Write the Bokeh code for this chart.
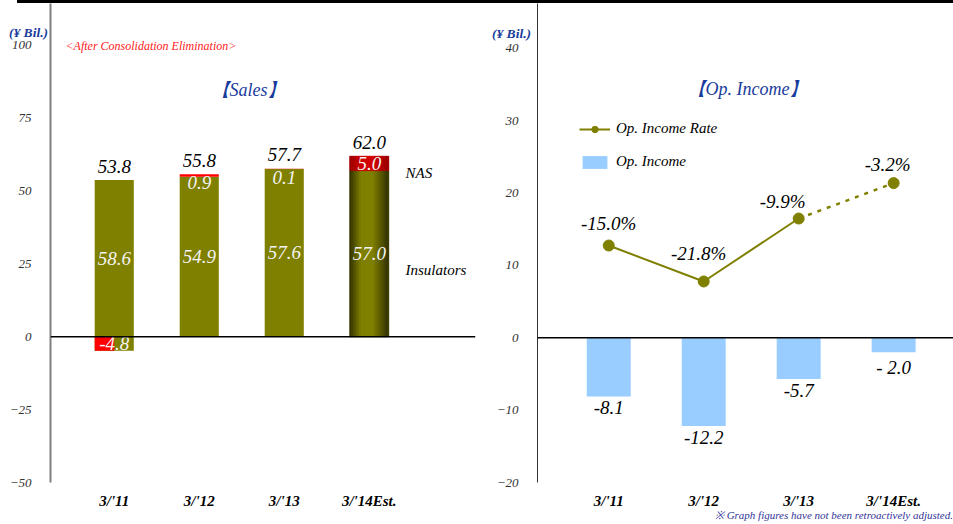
from bokeh.plotting import figure
from bokeh.layouts import row, column
from bokeh.models import (ColumnDataSource, FixedTicker, Span, Label, Legend,
                          LegendItem, Range1d, Div)
from bokeh.core.properties import value
from bokeh.embed import file_html
from bokeh.resources import INLINE

# ---- data ---------------------------------------------------------------
categories = ["3/'11", "3/'12", "3/'13", "3/'14Est."]

insulators = [58.6, 54.9, 57.6, 57.0]
nas = [-4.8, 0.9, 0.1, 5.0]
sales_total = [53.8, 55.8, 57.7, 62.0]
sales_ticks = [-50, -25, 0, 25, 50, 75, 100]

op_income = [-8.1, -12.2, -5.7, -2.0]
op_income_text = ["-8.1", "-12.2", "-5.7", "- 2.0"]
op_rate = [-15.0, -21.8, -9.9, -3.2]
income_ticks = [-20, -10, 0, 10, 20, 30, 40]

# ---- styling ------------------------------------------------------------
SERIF = "Liberation Serif"
OLIVE = "#808000"
RED = "#ff0000"
BLUE_TITLE = "#1a3c9c"
BAR_W = 0.46
# small nudges so the rate labels clear the line
rate_label_dx = [0, -5, -16, -6]
rate_label_dy = [-22, -28, -17, -19]
UNIT = "(¥ Bil.)"
FOOTNOTE = "※ Graph figures have not been retroactively adjusted."


def shade(hex_color, f):
    r, g, b = (int(hex_color[i:i + 2], 16) for i in (1, 3, 5))
    return "#%02x%02x%02x" % (int(r * f), int(g * f), int(b * f))


def cylinder_factor(t):
    # darker at both edges, flat in the middle
    d = min(t / 0.3, (1 - t) / 0.4)
    return min(1.0, 0.38 + 0.62 * d)


def base_axes(p, ticks, axis_color, axis_width):
    p.outline_line_color = None
    p.xgrid.grid_line_color = None
    p.ygrid.grid_line_color = None
    p.background_fill_color = "white"
    p.border_fill_color = "white"

    p.yaxis.ticker = FixedTicker(ticks=ticks)
    p.yaxis.axis_line_color = axis_color
    p.yaxis.axis_line_width = axis_width
    p.yaxis.major_tick_line_color = None
    p.yaxis.minor_tick_line_color = None
    p.yaxis.major_label_standoff = 13
    p.yaxis.major_label_text_font = SERIF
    p.yaxis.major_label_text_font_style = "italic"
    p.yaxis.major_label_text_font_size = "13px"
    p.yaxis.major_label_text_color = "#333333"

    p.xaxis.ticker = FixedTicker(ticks=list(range(len(categories))))
    p.xaxis.major_label_overrides = {i: c for i, c in enumerate(categories)}
    p.xaxis.axis_line_color = None
    p.xaxis.major_tick_line_color = None
    p.xaxis.minor_tick_line_color = None
    p.xaxis.major_label_standoff = 4
    p.xaxis.major_label_text_font = SERIF
    p.xaxis.major_label_text_font_style = "bold italic"
    p.xaxis.major_label_text_font_size = "15px"
    p.xaxis.major_label_text_color = "black"

    p.add_layout(Span(location=0, dimension="width", line_color="black",
                      line_width=1.5))


def screen_label(p, x, y, text, size, color, style="italic", align="left"):
    p.add_layout(Label(x=x, y=y, x_units="screen", y_units="screen", text=text,
                       text_font=SERIF, text_font_style=style,
                       text_font_size=size, text_color=color,
                       text_align=align, text_baseline="middle"))


def floating_text(text, left, top, width, size, color, weight="normal",
                  align="left"):
    # small captions that sit in the margins outside the plot frames
    return Div(text=text, width=width, height=16,
               styles={"position": "absolute", "left": "%dpx" % left,
                       "top": "%dpx" % top, "z-index": "10",
                       "font-family": SERIF, "font-style": "italic",
                       "font-weight": weight, "font-size": size,
                       "line-height": "14px", "color": color,
                       "text-align": align, "white-space": "nowrap"})


# ---- Sales panel --------------------------------------------------------
xs = list(range(len(categories)))
olive_bottom = [min(n, 0) for n in nas]
olive_top = [b + i for b, i in zip(olive_bottom, insulators)]
nas_bottom = [i if n > 0 else n for i, n in zip(insulators, nas)]
nas_top = [i + n if n > 0 else 0 for i, n in zip(insulators, nas)]
nas_x = [x - BAR_W / 4 if n < 0 else x for x, n in zip(xs, nas)]
nas_w = [BAR_W / 2 if n < 0 else BAR_W for n in nas]

p1 = figure(width=480, height=521, x_range=Range1d(-0.75, 4.25),
            y_range=Range1d(-50, 114.4), output_backend="svg",
            toolbar_location=None, min_border_left=50, min_border_right=5,
            min_border_top=0, min_border_bottom=42)
base_axes(p1, sales_ticks, "#808080", 2)

sales_src = ColumnDataSource(dict(
    x=xs, ob=olive_bottom, ot=olive_top, nb=nas_bottom, nt=nas_top,
    nx=nas_x, nw=nas_w, total=sales_total,
    total_txt=["%.1f" % v for v in sales_total],
    ins_txt=["%.1f" % v for v in insulators],
    ins_y=[(max(b, 0) + t) / 2 for b, t in zip(olive_bottom, olive_top)],
    nas_txt=["%.1f" % v for v in nas],
    nas_y=[(b + t) / 2 if abs(n) >= 2 else tot - 3
           for b, t, n, tot in zip(nas_bottom, nas_top, nas, sales_total)],
))

p1.vbar(x="x", bottom="ob", top="ot", width=BAR_W, source=sales_src,
        fill_color=OLIVE, line_color=None)
p1.vbar(x="nx", bottom="nb", top="nt", width="nw", source=sales_src,
        fill_color=RED, line_color=None)

# cylinder shading on the estimate bar
est = len(categories) - 1
n_strips = 24
sw = BAR_W / n_strips
for k in range(n_strips):
    t = (k + 0.5) / n_strips
    f = cylinder_factor(t)
    sx = xs[est] - BAR_W / 2 + (k + 0.5) * sw
    c_body = shade(OLIVE, f)
    c_top = shade("#d00000", 0.55 + 0.45 * f)
    p1.vbar(x=[sx], bottom=[olive_bottom[est]], top=[olive_top[est]],
            width=sw, fill_color=c_body, line_color=c_body, line_width=0.6)
    p1.vbar(x=[sx], bottom=[nas_bottom[est]], top=[nas_top[est]],
            width=sw, fill_color=c_top, line_color=c_top, line_width=0.6)

p1.text(x="x", y="total", text="total_txt", source=sales_src,
        text_font=value(SERIF), text_font_style="italic",
        text_font_size="19px", text_color="black", text_align="center",
        text_baseline="alphabetic", y_offset=-14)
p1.text(x="x", y="ins_y", text="ins_txt", source=sales_src,
        text_font=value(SERIF), text_font_style="italic",
        text_font_size="19px", text_color="#f4f4f4", text_align="center",
        text_baseline="middle")
p1.text(x="x", y="nas_y", text="nas_txt", source=sales_src,
        text_font=value(SERIF), text_font_style="italic",
        text_font_size="19px", text_color="#f4f4f4", text_align="center",
        text_baseline="middle")

screen_label(p1, 198, 393, "【Sales】", "18px", BLUE_TITLE, align="center")
screen_label(p1, 15, 437, "<After Consolidation Elimination>", "12px", "#ff2020")
screen_label(p1, 355, 310, "NAS", "15px", "black")
screen_label(p1, 355, 213, "Insulators", "15px", "black")

# ---- Op. Income panel ---------------------------------------------------
p2 = figure(width=473, height=521, x_range=Range1d(-0.75, 3.63),
            y_range=Range1d(-20, 46.2), output_backend="svg",
            toolbar_location=None, min_border_left=57, min_border_right=0,
            min_border_top=0, min_border_bottom=42)
base_axes(p2, income_ticks, "#333333", 1)

# the rate line shares the plot area on its own (hidden) scale
p2.extra_y_ranges = {"rate": Range1d(-59.8, 30.75)}

inc_src = ColumnDataSource(dict(x=xs, inc=op_income, inc_txt=op_income_text))
rate_src = ColumnDataSource(dict(
    x=xs, rate=op_rate, rate_txt=["%.1f%%" % v for v in op_rate],
    dx=rate_label_dx, dy=rate_label_dy))

r_bar = p2.vbar(x="x", top="inc", bottom=0, width=0.463, source=inc_src,
                fill_color="#99ccff", line_color=None)
p2.text(x="x", y="inc", text="inc_txt", source=inc_src,
        text_font=value(SERIF), text_font_style="italic",
        text_font_size="19px", text_color="black", text_align="center",
        text_baseline="top", y_offset=5)

r_line = p2.line(x=xs[:3], y=op_rate[:3], y_range_name="rate",
                 line_color=OLIVE, line_width=2)
p2.line(x=xs[2:], y=op_rate[2:], y_range_name="rate", line_color=OLIVE,
        line_width=2.5, line_dash="4 6")
r_pts = p2.scatter(x="x", y="rate", source=rate_src, y_range_name="rate",
                   size=11, marker="circle", fill_color=OLIVE,
                   line_color=OLIVE)
p2.text(x="x", y="rate", text="rate_txt", source=rate_src,
        y_range_name="rate", x_offset="dx", y_offset="dy",
        text_font=value(SERIF), text_font_style="italic",
        text_font_size="19px", text_color="black", text_align="center",
        text_baseline="alphabetic")

legend = Legend(items=[LegendItem(label="Op. Income Rate",
                                  renderers=[r_line, r_pts]),
                       LegendItem(label="Op. Income", renderers=[r_bar])],
                location=(42, 312), glyph_width=31, glyph_height=16,
                label_height=16, spacing=16, padding=0, margin=0,
                label_standoff=6, border_line_color=None,
                background_fill_alpha=0,
                label_text_font=SERIF, label_text_font_style="italic",
                label_text_font_size="15px", label_text_color="black")
p2.add_layout(legend)

screen_label(p2, 210, 394, "【Op. Income】", "18px", BLUE_TITLE, align="center")

# heavy rule across the top of both panels
rule = Div(text="", width=936, height=3, margin=(0, 0, 0, 17),
           styles={"background-color": "black"})

layout = column(
    rule, row(p1, p2, spacing=0),
    floating_text(UNIT, 4, 21, 50, "13.5px", BLUE_TITLE, weight="bold"),
    floating_text(UNIT, 487, 22, 50, "13.5px", BLUE_TITLE, weight="bold"),
    floating_text(FOOTNOTE, 680, 503, 268, "11px", "#333399",
                  align="right"),
    spacing=0, styles={"position": "relative"})
open("out.html", "w").write(file_html(layout, INLINE))
